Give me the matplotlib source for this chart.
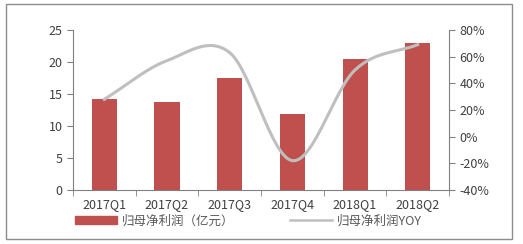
import matplotlib
matplotlib.use("Agg")
import matplotlib.pyplot as plt
import numpy as np
from matplotlib.patches import Rectangle
from matplotlib.lines import Line2D

plt.rcParams['font.family'] = ['Noto Sans CJK SC', 'DejaVu Sans']

categories = ["2017Q1", "2017Q2", "2017Q3", "2017Q4", "2018Q1", "2018Q2"]
profit = [14.2, 13.7, 17.5, 11.8, 20.5, 23.0]
yoy = [28, 57, 63, -18, 50, 69]

bar_color = "#C0504D"
line_color = "#BFBFBF"
text_color = "#404040"
spine_color = "#808080"

def catmull_rom(xs, ys, n=30):
    xs = np.asarray(xs, float); ys = np.asarray(ys, float)
    px = np.concatenate([[2*xs[0]-xs[1]], xs, [2*xs[-1]-xs[-2]]])
    py = np.concatenate([[2*ys[0]-ys[1]], ys, [2*ys[-1]-ys[-2]]])
    outx, outy = [], []
    for i in range(1, len(px)-2):
        t = np.linspace(0, 1, n, endpoint=False)
        for arr, out in ((px, outx), (py, outy)):
            p0, p1, p2, p3 = arr[i-1], arr[i], arr[i+1], arr[i+2]
            out.extend(0.5*((2*p1) + (-p0+p2)*t + (2*p0-5*p1+4*p2-p3)*t**2 + (-p0+3*p1-3*p2+p3)*t**3))
    outx.append(xs[-1]); outy.append(ys[-1])
    return np.array(outx), np.array(outy)

fig = plt.figure(figsize=(5.23, 2.44), dpi=100)
fig.patches.append(Rectangle((0.011, 0.02), 0.968, 0.962, transform=fig.transFigure,
                             fill=False, edgecolor="#8C8C8C", linewidth=1.0))
ax = fig.add_axes([0.1396, 0.2213, 0.719, 0.656])
x = np.arange(len(categories))
ax.bar(x, profit, width=0.4, color=bar_color, zorder=2)
ax.set_xlim(-0.5, len(categories)-0.5)
ax.set_ylim(0, 25)
ax.set_yticks([0, 5, 10, 15, 20, 25])
ax.set_xticks(x)
ax.set_xticklabels(categories)
ax.set_xticks(np.arange(-0.5, len(categories)), minor=True)
ax.tick_params(axis='x', which='major', length=0, labelsize=9, colors=text_color, pad=6)
ax.tick_params(axis='x', which='minor', length=4, color=spine_color, direction='out')
ax.tick_params(axis='y', length=4, labelsize=9, colors=text_color, color=spine_color)
for s in ['top', 'right']:
    ax.spines[s].set_visible(False)
for s in ['left', 'bottom']:
    ax.spines[s].set_color(spine_color)

ax2 = ax.twinx()
sx, sy = catmull_rom(x, yoy)
ax2.plot(sx, sy, color=line_color, linewidth=2.2, zorder=3)
ax2.set_ylim(-40, 80)
ax2.set_yticks([-40, -20, 0, 20, 40, 60, 80])
ax2.set_yticklabels([f"{v}%" for v in [-40, -20, 0, 20, 40, 60, 80]])
ax2.tick_params(axis='y', length=4, labelsize=9, colors=text_color, color=spine_color)
for s in ['top', 'left', 'bottom']:
    ax2.spines[s].set_visible(False)
ax2.spines['right'].set_color(spine_color)

handles = [Rectangle((0, 0), 1, 1, color=bar_color),
           Line2D([0], [0], color=line_color, linewidth=1.8)]
fig.legend(handles, ["归母净利润（亿元）", "归母净利润YOY"], loc='center',
           bbox_to_anchor=(0.475, 0.095), ncol=2, frameon=False, fontsize=9,
           labelcolor="#595959", handlelength=3.3, handleheight=0.55,
           columnspacing=4.5, handletextpad=0.4)

fig.savefig("out.png", dpi=100)
